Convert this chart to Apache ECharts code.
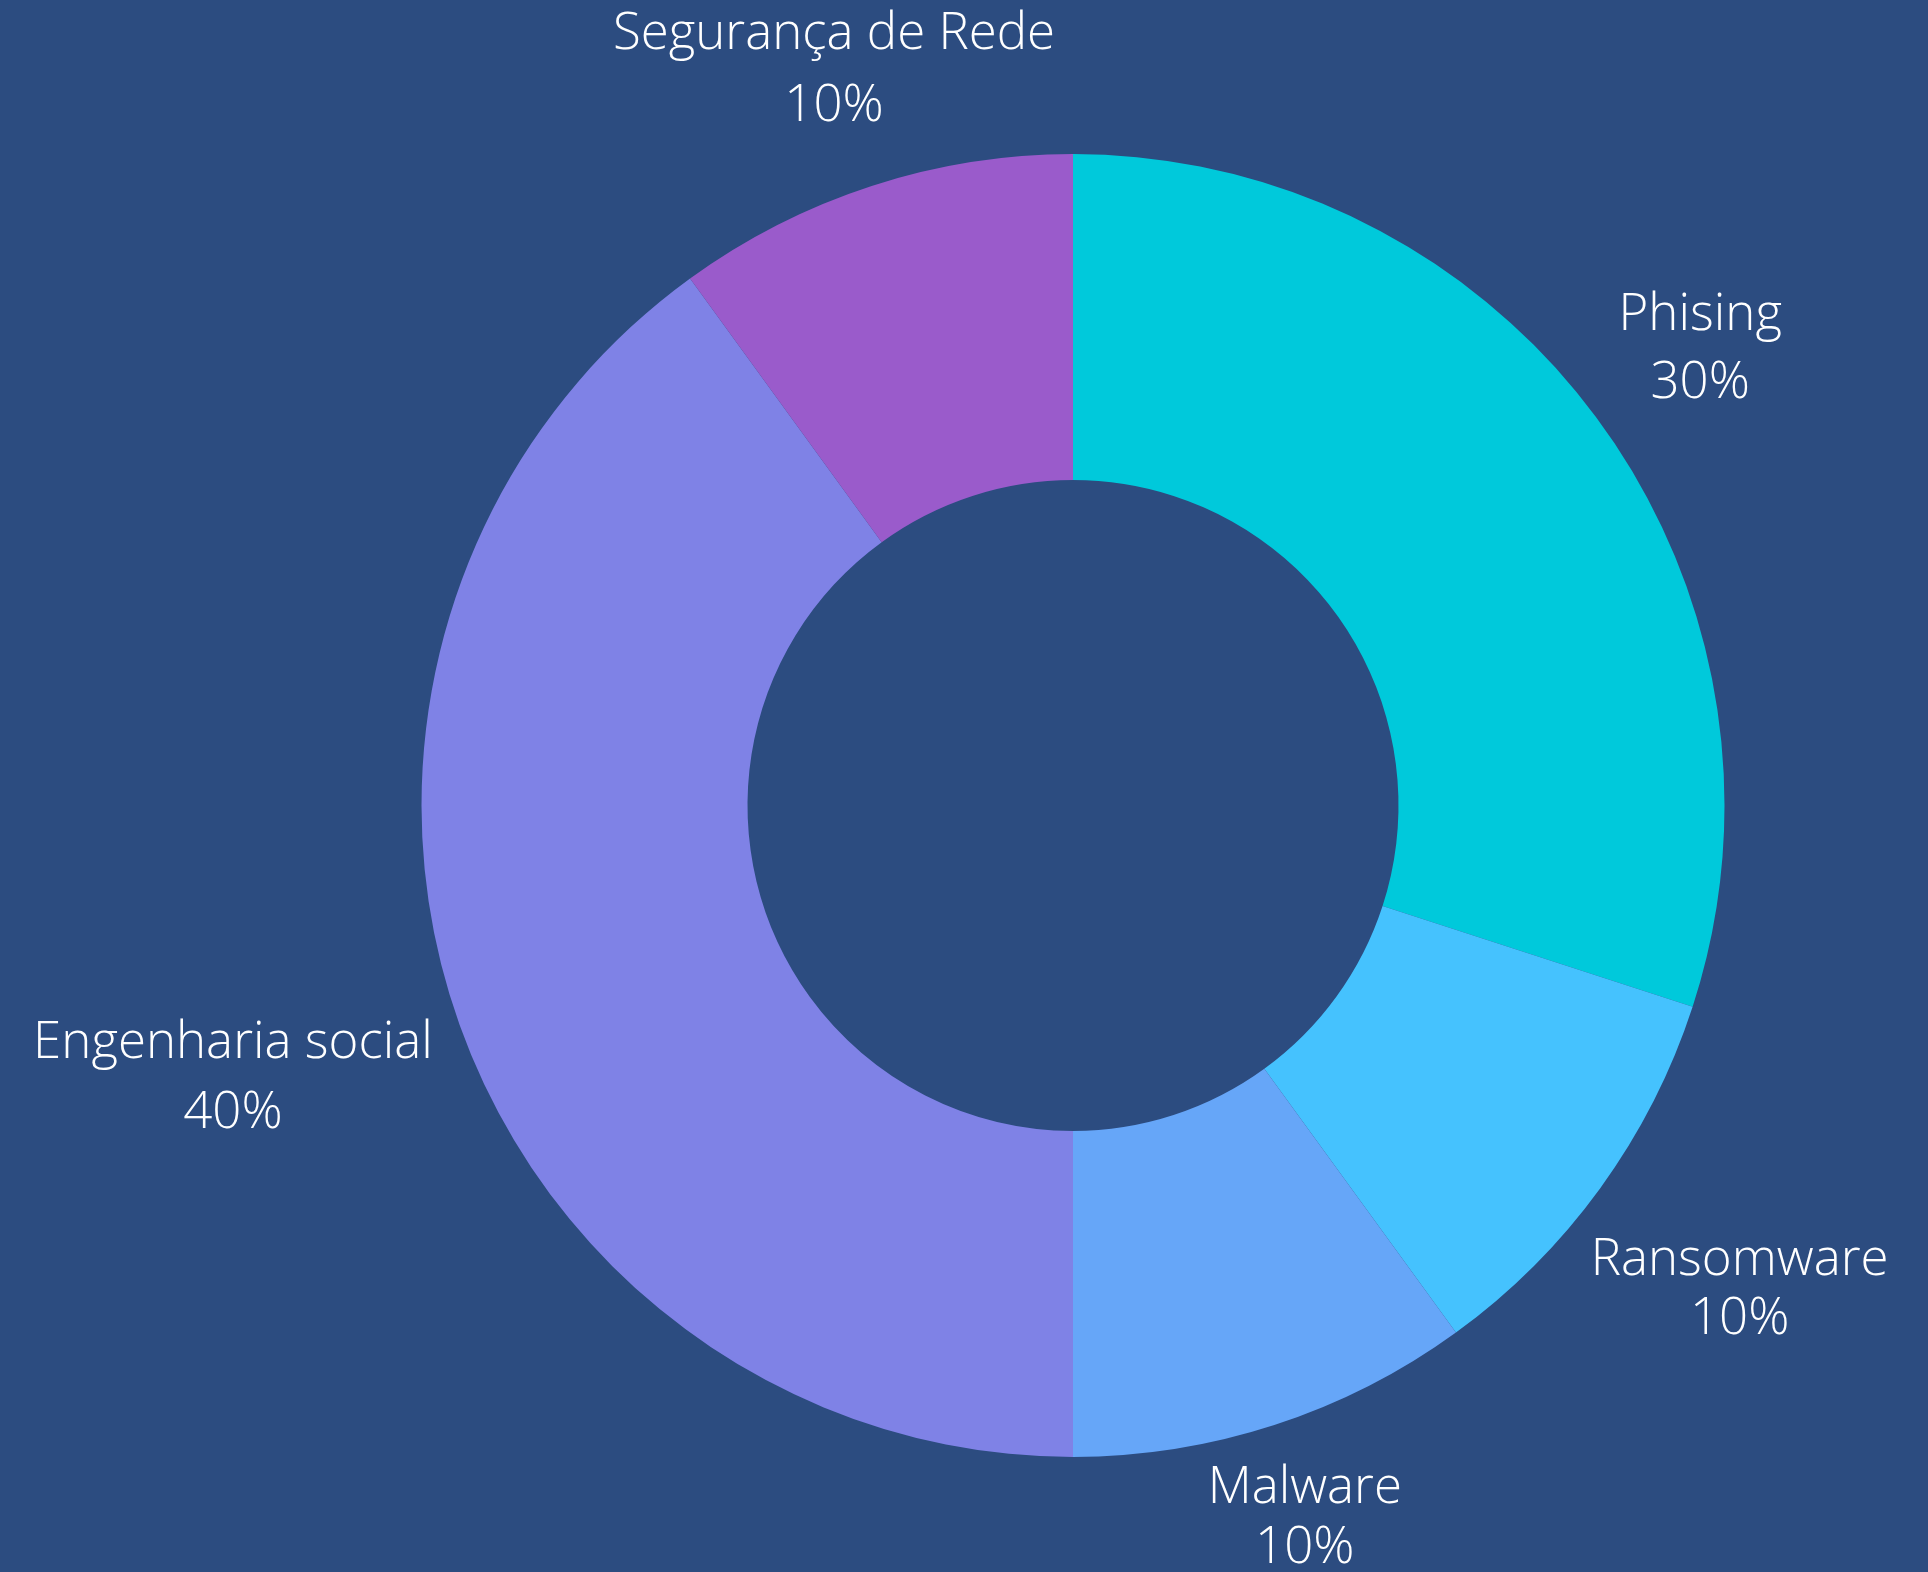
<!DOCTYPE html>
<html>
<head>
<meta charset="utf-8">
<script src="https://cdn.jsdelivr.net/npm/echarts@6/dist/echarts.min.js"></script>
<style>
  html, body { margin: 0; padding: 0; background: #2c4c80; }
  #rosca { width: 1928px; height: 1572px; }
</style>
</head>
<body>
<div id="rosca"></div>
<script>
// dados do gráfico
var categorias = ['Phising', 'Ransomware', 'Malware', 'Engenharia social', 'Segurança de Rede'];
var valores = [30, 10, 10, 40, 10];

// estilo
var cores = ['#00c9db', '#45c2fe', '#66a6f8', '#7f82e6', '#9a5bcb'];
var entrelinhas = [68, 59, 60, 70, 72];
var tamFonte = 51;

var centroX = 1073, centroY = 805.5;
var raioExt = 651.5, raioInt = 325.5;
var raioTexto = 680; // o contorno das letras encosta neste raio

var total = valores.reduce(function (a, b) { return a + b; }, 0);

// centro do rótulo no raio do meio da fatia, afastado até as letras saírem do raioTexto
function posRotulo(p) {
  var antes = 0;
  for (var k = 0; k < p.dataIndex; k++) antes += valores[k];
  var ang = (antes + valores[p.dataIndex] / 2) / total * Math.PI * 2;
  var ux = Math.sin(ang), uy = -Math.cos(ang);
  var hw = p.labelRect.width / 2, hh = p.labelRect.height / 2;
  var L = p.labelRect.height / 2;
  var base = 0.388 * tamFonte;
  var insetX = 3;
  var insetTop = L / 2 + base - 0.73 * tamFonte;
  var insetBot = L / 2 - base;
  var lo = 0, hi = 3000;
  for (var it = 0; it < 60; it++) {
    var d = (lo + hi) / 2;
    var bx = d * ux, by = d * uy;
    var x0 = bx - hw + insetX, x1 = bx + hw - insetX;
    var y0 = by - hh + insetTop, y1 = by + hh - insetBot;
    var nx = Math.max(x0, Math.min(0, x1));
    var ny = Math.max(y0, Math.min(0, y1));
    if (Math.sqrt(nx * nx + ny * ny) < raioTexto) lo = d; else hi = d;
  }
  return {
    x: centroX + hi * ux,
    y: centroY + hi * uy,
    align: 'center',
    verticalAlign: 'middle'
  };
}

var myChart = echarts.init(document.getElementById('rosca'));
myChart.setOption({
    backgroundColor: '#2c4c80',
    color: cores,
    series: [
        {
            type: 'pie',
            center: [centroX, centroY],
            radius: [raioInt, raioExt],
            startAngle: 90,
            clockwise: true,
            avoidLabelOverlap: false,
            animation: false,
            itemStyle: { borderWidth: 0 },
            label: {
                show: true,
                position: 'outside',
                formatter: '{b}\n{d}%',
                color: '#ffffff',
                fontFamily: 'Open Sans',
                fontWeight: 300,
                fontSize: tamFonte
            },
            labelLine: { show: false },
            labelLayout: posRotulo,
            data: categorias.map(function (c, i) {
                return { name: c, value: valores[i], label: { lineHeight: entrelinhas[i] } };
            })
        }
    ]
});
</script>
</body>
</html>
